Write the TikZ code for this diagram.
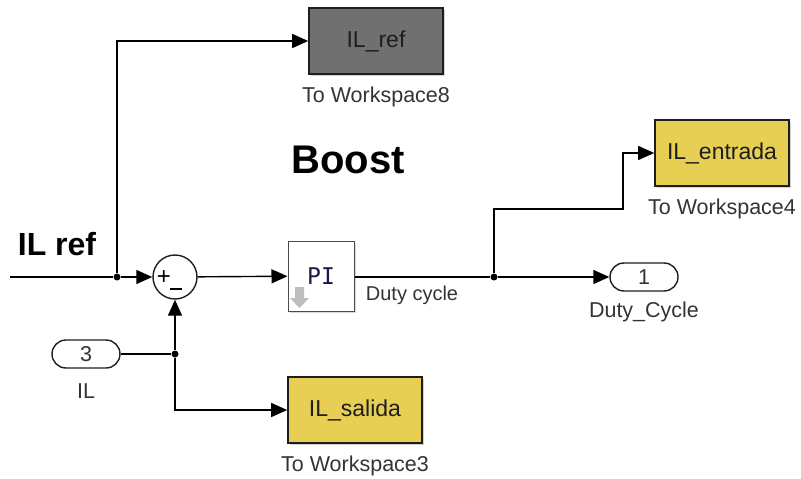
\documentclass[tikz,border=0pt]{standalone}
\usepackage{fontspec}
\setmainfont{Liberation Sans}
\newfontfamily\pifont{DejaVu Sans Mono}
\usetikzlibrary{positioning, arrows.meta, shadows}
\definecolor{SLyellow}{HTML}{E6CF52}
\definecolor{SLgrey}{HTML}{707070}
\definecolor{SLdark}{HTML}{1E1E1E}
\definecolor{SLtext}{HTML}{333333}
\definecolor{SLicon}{HTML}{BDBDBD}
\newcommand{\lblfont}{\fontsize{21.5}{24}\selectfont}
\newcommand{\blkfont}{\fontsize{23}{26}\selectfont}

\begin{document}
\begin{tikzpicture}[x=1pt, y=-1pt, >={Triangle[length=16pt, width=14pt]}, font=\lblfont, line width=1.4pt,
    wsblock/.style={draw=SLdark, line width=1.6pt, minimum width=134pt, minimum height=66pt,
                    font=\blkfont, text=SLdark, drop shadow={shadow xshift=2pt, shadow yshift=-2pt, opacity=0.35}},
    port/.style={draw=SLdark, rounded corners=14pt, minimum width=68pt, minimum height=28pt, text=SLtext},
    dot/.style={circle, fill=black, inner sep=0pt, minimum size=7pt},
    caption/.style={text=SLtext, inner sep=1pt}]
    \useasboundingbox (0,0) rectangle (801,479);
    % headings
    \node[font=\fontsize{40}{44}\selectfont\bfseries] (title) at (348,160) {Boost};
    \node[font=\fontsize{32}{36}\selectfont\bfseries] (refname) at (57,244) {IL ref};
    % workspace blocks
    \node[wsblock, fill=SLgrey] (ws8) at (376,41) {IL\_ref};
    \node[caption, below=10pt of ws8] (ws8cap) {To Workspace8};
    \node[wsblock, fill=SLyellow] (ws4) at (722,153) {IL\_entrada};
    \node[caption, below=10pt of ws4] (ws4cap) {To Workspace4};
    \node[wsblock, fill=SLyellow] (ws3) at (355,410) {IL\_salida};
    \node[caption, below=10pt of ws3] (ws3cap) {To Workspace3};
    % sum
    \node[circle, draw=SLdark, fill=white, minimum size=44pt, inner sep=0pt] (sum) at (175,277) {};
    \node[font=\fontsize{24}{26}\selectfont, inner sep=0pt] (plus) at (164,278) {+};
    \draw[line width=1.6pt] (170,289) -- (182,289);
    % PI controller
    \node[draw=SLdark!80, line width=1pt, fill=white, minimum width=66pt, minimum height=70pt,
          drop shadow={shadow xshift=2pt, shadow yshift=-2pt, opacity=0.3},
          font=\fontsize{23}{26}\selectfont\pifont, text=SLdark!80!blue] (pi) at (321,276) {PI};
    \fill[SLicon] (295,287) -- (304,287) -- (304,298) -- (309,298) -- (299.5,308) -- (290,298) -- (295,298) -- cycle;
    \node[caption, font=\fontsize{20}{24}\selectfont] (dutylbl) at (412,295) {Duty cycle};
    % ports
    \node[port] (in3) at (86,354) {3};
    \node[caption, below=13pt of in3] (in3cap) {IL};
    \node[port] (out1) at (644,277) {1};
    \node[caption, below=9pt of out1] (out1cap) {Duty\_Cycle};
    % junctions
    \coordinate (start) at (10,277);
    \node[dot] (jref) at (117,277) {};
    \node[dot] (jil) at (175,354) {};
    \node[dot] (jduty) at (494,277) {};
    \coordinate (bendA) at (623,209);
    % wires
    \draw (start) -- (jref);
    \draw[->] (jref) -- (sum);
    \draw[->] (jref) |- (ws8.west);
    \draw[->] (sum) -- (pi);
    \draw (in3) -- (jil);
    \draw[->] (jil) -- (sum);
    \draw[->] (jil) |- (ws3.west);
    \draw (pi.east |- jduty) -- (jduty);
    \draw[->] (jduty) -- (out1);
    \draw[->] (jduty) |- (bendA) |- (ws4.west);
\end{tikzpicture}
\end{document}
